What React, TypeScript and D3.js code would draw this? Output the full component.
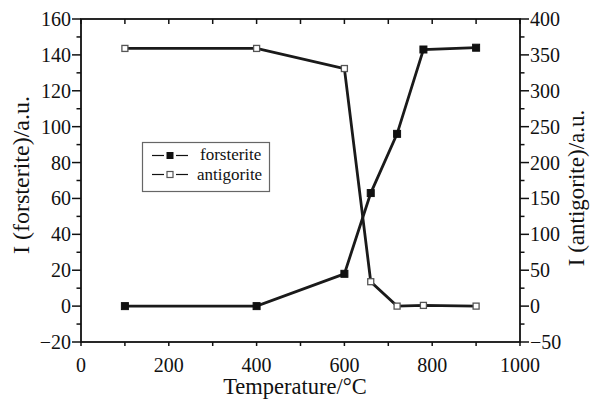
import React from "react";
import * as d3 from "d3";

const temps = [100, 400, 600, 660, 720, 780, 900];
const forsterite = [0, 0, 18, 63, 96, 143, 144];
const antigorite = [359, 359, 331, 34, 0, 1, 0];
const xTicks = [0, 200, 400, 600, 800, 1000];
const xMinor = [100, 300, 500, 700, 900];
const yLeftTicks = [-20, 0, 20, 40, 60, 80, 100, 120, 140, 160];
const yRightTicks = [-50, 0, 50, 100, 150, 200, 250, 300, 350, 400];

export default function App() {
  const W = 590, H = 403;
  const L = 81, R = 520, T = 19, B = 342;
  const x = d3.scaleLinear().domain([0, 1000]).range([L, R]);
  const yl = d3.scaleLinear().domain([-20, 160]).range([B, T]);
  const yr = d3.scaleLinear().domain([-50, 400]).range([B, T]);
  const lineF = d3.line<number>().x((_, i) => x(temps[i])).y((d) => yl(d));
  const lineA = d3.line<number>().x((_, i) => x(temps[i])).y((d) => yr(d));
  const font = "Liberation Serif, Times New Roman, serif";
  const leftMinor = d3.range(-10, 160, 20);
  const rightMinor = d3.range(-25, 400, 50);
  const fmt = (t: number) => (t < 0 ? "\u2212" + Math.abs(t) : String(t));
  return (
    <svg width={W} height={H} style={{ position: "absolute", left: 0, top: 0, background: "#fff", fontFamily: font }}>
      <rect x={0} y={0} width={W} height={H} fill="#fff" />
      <rect x={L} y={T} width={R - L} height={B - T} fill="none" stroke="#111" strokeWidth={1.8} />
      {xTicks.concat(xMinor).map((t) => (
        <g key={"xt" + t}>
          <line x1={x(t)} x2={x(t)} y1={B} y2={B + 4} stroke="#111" strokeWidth={1.5} />
          <line x1={x(t)} x2={x(t)} y1={T} y2={T + 5} stroke="#111" strokeWidth={1.5} />
        </g>
      ))}
      {xTicks.map((t) => (
        <text key={"xl" + t} x={x(t)} y={372} fontSize={20} textAnchor="middle" fill="#111">{t}</text>
      ))}
      {yLeftTicks.map((t) => (
        <g key={"yl" + t}>
          <line x1={L - 9} x2={L} y1={yl(t)} y2={yl(t)} stroke="#111" strokeWidth={1.5} />
          <text x={L - 10} y={yl(t) + 7} fontSize={20} textAnchor="end" fill="#111">{fmt(t)}</text>
        </g>
      ))}
      {leftMinor.map((t) => (
        <line key={"ylm" + t} x1={L - 4.5} x2={L} y1={yl(t)} y2={yl(t)} stroke="#111" strokeWidth={1.5} />
      ))}
      {yRightTicks.map((t) => (
        <g key={"yr" + t}>
          <line x1={R} x2={R + 9} y1={yr(t)} y2={yr(t)} stroke="#111" strokeWidth={1.5} />
          <text x={R + 10} y={yr(t) + 7} fontSize={20} textAnchor="start" fill="#111">{fmt(t)}</text>
        </g>
      ))}
      {rightMinor.map((t) => (
        <line key={"yrm" + t} x1={R} x2={R + 4.5} y1={yr(t)} y2={yr(t)} stroke="#111" strokeWidth={1.5} />
      ))}
      <text x={295} y={394} fontSize={22.5} textAnchor="middle" fill="#111">Temperature/°C</text>
      <text transform={`translate(29,175) rotate(-90)`} fontSize={24} textAnchor="middle" fill="#111">I (forsterite)/a.u.</text>
      <text transform={`translate(584,188) rotate(-90)`} fontSize={23} textAnchor="middle" fill="#111">I (antigorite)/a.u.</text>
      <path d={lineF(forsterite) || ""} fill="none" stroke="#1a1a1a" strokeWidth={2.8} />
      <path d={lineA(antigorite) || ""} fill="none" stroke="#1a1a1a" strokeWidth={2.8} />
      {forsterite.map((v, i) => (
        <rect key={"fm" + i} x={x(temps[i]) - 3.5} y={yl(v) - 3.5} width={7} height={7} fill="#111" stroke="#111" strokeWidth={1} />
      ))}
      {antigorite.map((v, i) => (
        <rect key={"am" + i} x={x(temps[i]) - 3} y={yr(v) - 3} width={6} height={6} fill="#fff" stroke="#555" strokeWidth={1.3} />
      ))}
      <rect x={142.5} y={142.5} width={127} height={49} fill="#fff" stroke="#666" strokeWidth={1.2} />
      <line x1={152} x2={164} y1={155.5} y2={155.5} stroke="#111" strokeWidth={1.2} />
      <line x1={176} x2={188} y1={155.5} y2={155.5} stroke="#111" strokeWidth={1.2} />
      <rect x={166.5} y={152} width={7} height={7} fill="#111" />
      <text x={200} y={160} fontSize={17} fill="#111">forsterite</text>
      <line x1={152} x2={164} y1={174.5} y2={174.5} stroke="#111" strokeWidth={1.2} />
      <line x1={176} x2={188} y1={174.5} y2={174.5} stroke="#111" strokeWidth={1.2} />
      <rect x={167} y={171.5} width={6} height={6} fill="#fff" stroke="#555" strokeWidth={1.2} />
      <text x={197} y={179.5} fontSize={17} fill="#111">antigorite</text>
    </svg>
  );
}
